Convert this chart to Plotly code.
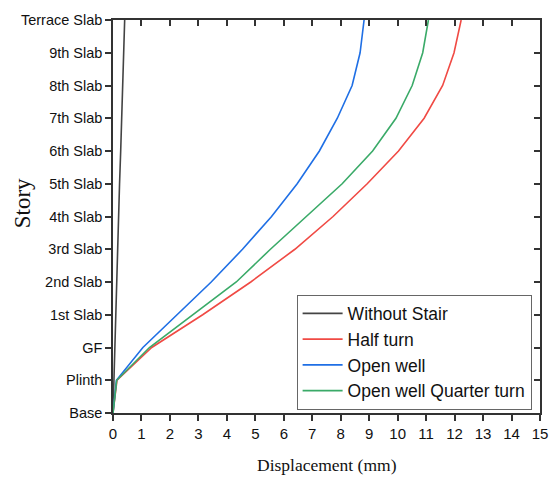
import plotly.graph_objects as go

stories = ["Base", "Plinth", "GF", "1st Slab", "2nd Slab", "3rd Slab", "4th Slab",
           "5th Slab", "6th Slab", "7th Slab", "8th Slab", "9th Slab", "Terrace Slab"]
story_level = list(range(len(stories)))

without_stair = [0, 0.03, 0.06, 0.09, 0.12, 0.15, 0.19, 0.23, 0.27, 0.31, 0.35, 0.38, 0.41]
half_turn = [0, 0.14, 1.36, 3.15, 4.84, 6.39, 7.73, 8.93, 10.03, 10.93, 11.58, 11.98, 12.23]
open_well = [0, 0.12, 1.05, 2.26, 3.45, 4.55, 5.57, 6.47, 7.25, 7.88, 8.40, 8.68, 8.82]
open_well_quarter = [0, 0.13, 1.28, 2.81, 4.33, 5.53, 6.80, 8.05, 9.12, 9.94, 10.51, 10.88, 11.08]

x_ticks = list(range(0, 16))

series = [
    ("Without Stair", without_stair, "#444444"),
    ("Half turn", half_turn, "#f04a44"),
    ("Open well", open_well, "#1f6fe5"),
    ("Open well Quarter turn", open_well_quarter, "#3aaa68"),
]

fig = go.Figure()
for name, vals, col in series:
    fig.add_trace(go.Scatter(x=vals, y=story_level, mode="lines", name=name,
                             line=dict(color=col, width=1.6)))

# dummy trace for mirrored (inside) ticks on top/right
fig.add_trace(go.Scatter(x=[None], y=[None], xaxis="x2", yaxis="y2",
                         showlegend=False, hoverinfo="skip"))

axcol = "#333333"
fig.update_layout(
    width=560, height=477,
    margin=dict(l=113, r=20, t=15, b=64),
    paper_bgcolor="white", plot_bgcolor="white",
    showlegend=True,
    legend=dict(x=0.430, y=0.3015, xanchor="left", yanchor="top",
                bgcolor="white", bordercolor="#666666", borderwidth=1,
                font=dict(family="Liberation Sans, Arial", size=17.5, color="#111111"),
                tracegroupgap=0, itemwidth=40),
    xaxis=dict(range=[0, 15], tickvals=x_ticks, ticktext=[str(v) for v in x_ticks],
               ticks="outside", ticklen=6, tickwidth=1.5, tickcolor=axcol,
               showline=True, linecolor=axcol, linewidth=1.5, showgrid=False,
               zeroline=False,
               tickfont=dict(family="Liberation Sans, Arial", size=15, color="#111111")),
    yaxis=dict(range=[0, 12], tickvals=story_level, ticktext=stories,
               ticks="outside", ticklen=6, tickwidth=1.5, tickcolor=axcol,
               showline=True, linecolor=axcol, linewidth=1.5, showgrid=False,
               zeroline=False,
               tickfont=dict(family="Liberation Sans, Arial", size=14.5, color="#111111")),
    xaxis2=dict(overlaying="x", side="top", anchor="y2", range=[0, 15], tickvals=x_ticks,
                ticks="inside", ticklen=6, tickwidth=1.5, tickcolor=axcol,
                showticklabels=False, showline=True, linecolor=axcol, linewidth=1.5,
                showgrid=False, zeroline=False),
    yaxis2=dict(overlaying="y", side="right", anchor="x2", range=[0, 12], tickvals=story_level,
                ticks="inside", ticklen=6, tickwidth=1.5, tickcolor=axcol,
                showticklabels=False, showline=True, linecolor=axcol, linewidth=1.5,
                showgrid=False, zeroline=False),
    annotations=[
        dict(text="Displacement (mm)", xref="paper", yref="paper", x=0.5, y=-0.133,
             xanchor="center", yanchor="middle", showarrow=False,
             font=dict(family="Liberation Serif, Times New Roman", size=17.5, color="#111111")),
        dict(text="Story", xref="paper", yref="paper", x=-0.212, y=0.535,
             xanchor="center", yanchor="middle", showarrow=False, textangle=-90,
             font=dict(family="Liberation Serif, Times New Roman", size=23, color="#111111")),
    ],
)

fig.write_html("out.html")
